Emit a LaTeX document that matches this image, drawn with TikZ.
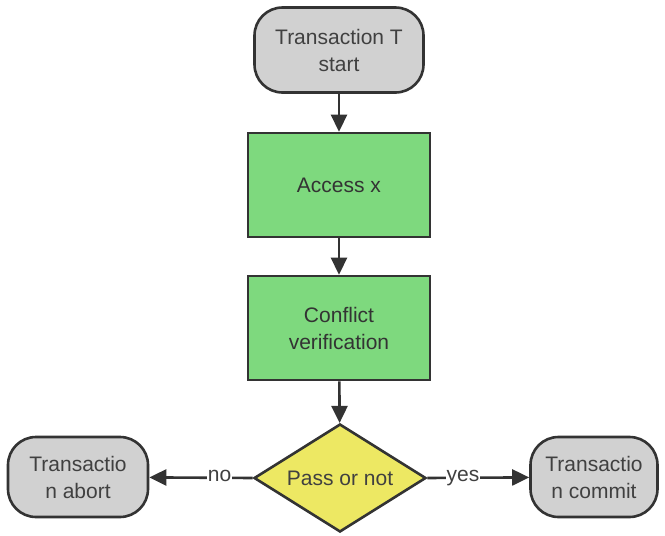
\documentclass[tikz,border=0pt]{standalone}
\usepackage{fontspec}
\setmainfont{Liberation Sans}
\usepackage{tikz}
\usetikzlibrary{arrows.meta,positioning,shapes.geometric}

\definecolor{lineGray}{HTML}{333333}
\definecolor{textGray}{HTML}{404040}
\definecolor{termGray}{HTML}{D1D1D1}
\definecolor{procGreen}{HTML}{7ED97E}
\definecolor{decYellow}{HTML}{EDE863}

\tikzset{
  terminal/.style={draw=lineGray,line width=2.6pt,fill=termGray,rounded corners=28pt,
    inner sep=0pt,align=center,text=textGray},
  process/.style={draw=lineGray,line width=2.6pt,fill=procGreen,minimum width=182pt,
    minimum height=104pt,inner sep=0pt,align=center,text=textGray!80!black},
  decision/.style={draw=lineGray,line width=2.6pt,fill=decYellow,diamond,shape aspect=1.56,
    minimum width=172pt,minimum height=108pt,inner sep=0pt,align=center,text=textGray},
  flow/.style={draw=lineGray,line width=2.6pt,-{Triangle[length=17pt,width=16pt]}},
  flowlabel/.style={fill=white,inner sep=1pt,text=textGray,text height=11pt,text depth=3pt}
}

\begin{document}
\begin{tikzpicture}[x=1pt,y=-1pt,font=\fontsize{21}{27}\selectfont]
		\useasboundingbox (0,0) rectangle (665,536);
		\node[terminal,minimum width=169pt,minimum height=85pt] (start) at (339,50) {Transaction T\\start};
		\node[process] (access) at (339,185) {Access x};
		\node[process] (verify) at (339,328) {Conflict\\verification};
		\node[decision] (pass) at (340,478) {Pass or not};
		\node[terminal,minimum width=140pt,minimum height=80pt] (abort) at (78,477) {Transactio\\n abort};
		\node[terminal,minimum width=127pt,minimum height=80pt] (commit) at (594,477) {Transactio\\n commit};
		% connectors
		\draw[flow] (start) -- (access);
		\draw[flow] (access) -- (verify);
		\draw[flow] (verify) -- (pass);
		\draw[flow] (pass.west) -- node[flowlabel,pos=0.32] {no} (abort);
		\draw[flow] (pass.east) -- node[flowlabel,pos=0.35] {yes} (commit);
\end{tikzpicture}
\end{document}
